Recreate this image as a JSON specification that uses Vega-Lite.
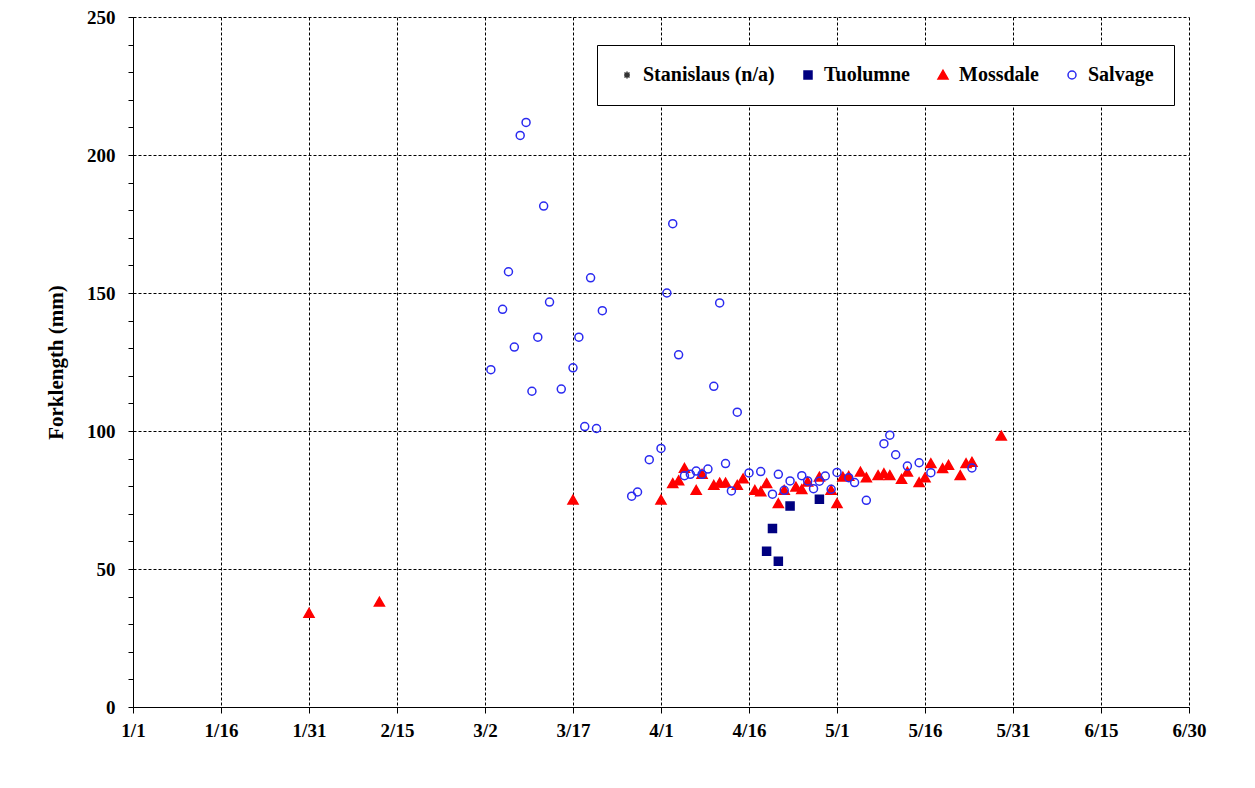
{
  "$schema": "https://vega.github.io/schema/vega-lite/v6.json",
  "width": 1056,
  "height": 690,
  "autosize": {"type": "none"},
  "padding": {"left": 133, "top": 17, "right": 66, "bottom": 81},
  "background": "white",
  "data": {
    "values": [
      {"series": "Tuolumne", "date": "2009-04-23", "length": 72.8},
      {"series": "Tuolumne", "date": "2009-04-20", "length": 64.7},
      {"series": "Tuolumne", "date": "2009-04-19", "length": 56.4},
      {"series": "Tuolumne", "date": "2009-04-21", "length": 52.8},
      {"series": "Tuolumne", "date": "2009-04-28", "length": 75.3},
      {"series": "Mossdale", "date": "2009-01-31", "length": 34},
      {"series": "Mossdale", "date": "2009-02-12", "length": 38},
      {"series": "Mossdale", "date": "2009-03-17", "length": 75},
      {"series": "Mossdale", "date": "2009-04-01", "length": 75},
      {"series": "Mossdale", "date": "2009-04-03", "length": 81},
      {"series": "Mossdale", "date": "2009-04-04", "length": 82},
      {"series": "Mossdale", "date": "2009-04-05", "length": 86.5},
      {"series": "Mossdale", "date": "2009-04-07", "length": 78.5},
      {"series": "Mossdale", "date": "2009-04-08", "length": 84.3},
      {"series": "Mossdale", "date": "2009-04-10", "length": 80.3},
      {"series": "Mossdale", "date": "2009-04-11", "length": 81.2},
      {"series": "Mossdale", "date": "2009-04-12", "length": 81.2},
      {"series": "Mossdale", "date": "2009-04-14", "length": 80.3},
      {"series": "Mossdale", "date": "2009-04-15", "length": 82.7},
      {"series": "Mossdale", "date": "2009-04-17", "length": 78.5},
      {"series": "Mossdale", "date": "2009-04-18", "length": 78},
      {"series": "Mossdale", "date": "2009-04-19", "length": 81},
      {"series": "Mossdale", "date": "2009-04-21", "length": 73.7},
      {"series": "Mossdale", "date": "2009-04-22", "length": 78.5},
      {"series": "Mossdale", "date": "2009-04-24", "length": 79.7},
      {"series": "Mossdale", "date": "2009-04-25", "length": 78.8},
      {"series": "Mossdale", "date": "2009-04-26", "length": 81.5},
      {"series": "Mossdale", "date": "2009-04-28", "length": 83.3},
      {"series": "Mossdale", "date": "2009-04-30", "length": 78.5},
      {"series": "Mossdale", "date": "2009-05-01", "length": 73.7},
      {"series": "Mossdale", "date": "2009-05-02", "length": 83.3},
      {"series": "Mossdale", "date": "2009-05-03", "length": 83.6},
      {"series": "Mossdale", "date": "2009-05-05", "length": 85.1},
      {"series": "Mossdale", "date": "2009-05-06", "length": 83.1},
      {"series": "Mossdale", "date": "2009-05-08", "length": 83.9},
      {"series": "Mossdale", "date": "2009-05-09", "length": 84.6},
      {"series": "Mossdale", "date": "2009-05-10", "length": 83.9},
      {"series": "Mossdale", "date": "2009-05-12", "length": 82.5},
      {"series": "Mossdale", "date": "2009-05-13", "length": 85.1},
      {"series": "Mossdale", "date": "2009-05-15", "length": 81.3},
      {"series": "Mossdale", "date": "2009-05-16", "length": 83.1},
      {"series": "Mossdale", "date": "2009-05-17", "length": 88.2},
      {"series": "Mossdale", "date": "2009-05-19", "length": 86.4},
      {"series": "Mossdale", "date": "2009-05-20", "length": 87.6},
      {"series": "Mossdale", "date": "2009-05-22", "length": 83.9},
      {"series": "Mossdale", "date": "2009-05-23", "length": 88.2},
      {"series": "Mossdale", "date": "2009-05-24", "length": 88.7},
      {"series": "Mossdale", "date": "2009-05-29", "length": 98.2},
      {"series": "Salvage", "date": "2009-03-09", "length": 211.8},
      {"series": "Salvage", "date": "2009-03-08", "length": 207.1},
      {"series": "Salvage", "date": "2009-03-12", "length": 181.5},
      {"series": "Salvage", "date": "2009-03-06", "length": 157.7},
      {"series": "Salvage", "date": "2009-03-20", "length": 155.5},
      {"series": "Salvage", "date": "2009-03-13", "length": 146.7},
      {"series": "Salvage", "date": "2009-03-05", "length": 144.1},
      {"series": "Salvage", "date": "2009-03-22", "length": 143.6},
      {"series": "Salvage", "date": "2009-03-11", "length": 134},
      {"series": "Salvage", "date": "2009-03-18", "length": 134},
      {"series": "Salvage", "date": "2009-03-07", "length": 130.4},
      {"series": "Salvage", "date": "2009-03-03", "length": 122.2},
      {"series": "Salvage", "date": "2009-03-17", "length": 122.9},
      {"series": "Salvage", "date": "2009-03-10", "length": 114.4},
      {"series": "Salvage", "date": "2009-03-15", "length": 115.2},
      {"series": "Salvage", "date": "2009-03-19", "length": 101.6},
      {"series": "Salvage", "date": "2009-03-21", "length": 100.9},
      {"series": "Salvage", "date": "2009-04-01", "length": 93.7},
      {"series": "Salvage", "date": "2009-03-30", "length": 89.6},
      {"series": "Salvage", "date": "2009-03-28", "length": 77.9},
      {"series": "Salvage", "date": "2009-03-27", "length": 76.4},
      {"series": "Salvage", "date": "2009-04-03", "length": 175.1},
      {"series": "Salvage", "date": "2009-04-02", "length": 150},
      {"series": "Salvage", "date": "2009-04-11", "length": 146.4},
      {"series": "Salvage", "date": "2009-04-04", "length": 127.6},
      {"series": "Salvage", "date": "2009-04-10", "length": 116.2},
      {"series": "Salvage", "date": "2009-04-14", "length": 106.8},
      {"series": "Salvage", "date": "2009-04-05", "length": 83.8},
      {"series": "Salvage", "date": "2009-04-06", "length": 84.3},
      {"series": "Salvage", "date": "2009-04-07", "length": 85.5},
      {"series": "Salvage", "date": "2009-04-08", "length": 84.3},
      {"series": "Salvage", "date": "2009-04-09", "length": 86.2},
      {"series": "Salvage", "date": "2009-04-12", "length": 88.2},
      {"series": "Salvage", "date": "2009-04-13", "length": 78.3},
      {"series": "Salvage", "date": "2009-04-16", "length": 84.8},
      {"series": "Salvage", "date": "2009-04-18", "length": 85.3},
      {"series": "Salvage", "date": "2009-04-21", "length": 84.3},
      {"series": "Salvage", "date": "2009-04-20", "length": 77.1},
      {"series": "Salvage", "date": "2009-04-23", "length": 81.9},
      {"series": "Salvage", "date": "2009-04-22", "length": 78.5},
      {"series": "Salvage", "date": "2009-04-25", "length": 83.8},
      {"series": "Salvage", "date": "2009-04-26", "length": 81.9},
      {"series": "Salvage", "date": "2009-04-27", "length": 79.1},
      {"series": "Salvage", "date": "2009-04-28", "length": 81.8},
      {"series": "Salvage", "date": "2009-04-29", "length": 83.7},
      {"series": "Salvage", "date": "2009-04-30", "length": 78.9},
      {"series": "Salvage", "date": "2009-05-01", "length": 85},
      {"series": "Salvage", "date": "2009-05-03", "length": 83.1},
      {"series": "Salvage", "date": "2009-05-04", "length": 81.3},
      {"series": "Salvage", "date": "2009-05-06", "length": 74.9},
      {"series": "Salvage", "date": "2009-05-10", "length": 98.5},
      {"series": "Salvage", "date": "2009-05-09", "length": 95.4},
      {"series": "Salvage", "date": "2009-05-11", "length": 91.4},
      {"series": "Salvage", "date": "2009-05-13", "length": 87.3},
      {"series": "Salvage", "date": "2009-05-15", "length": 88.5},
      {"series": "Salvage", "date": "2009-05-17", "length": 84.9},
      {"series": "Salvage", "date": "2009-05-24", "length": 86.6}
    ]
  },
  "mark": {"type": "point", "size": 100, "strokeWidth": 1.5, "opacity": 1},
  "encoding": {
    "x": {
      "field": "date",
      "type": "temporal",
      "scale": {
        "type": "utc",
        "nice": false,
        "domain": [
          {"year": 2009, "month": 1, "date": 1, "utc": true},
          {"year": 2009, "month": 6, "date": 30, "utc": true}
        ]
      },
      "axis": {
        "title": null,
        "labelExpr": "utcFormat(datum.value, '%-m/%-d')",
        "values": [
          {"year": 2009, "month": 1, "date": 1, "utc": true},
          {"year": 2009, "month": 1, "date": 16, "utc": true},
          {"year": 2009, "month": 1, "date": 31, "utc": true},
          {"year": 2009, "month": 2, "date": 15, "utc": true},
          {"year": 2009, "month": 3, "date": 2, "utc": true},
          {"year": 2009, "month": 3, "date": 17, "utc": true},
          {"year": 2009, "month": 4, "date": 1, "utc": true},
          {"year": 2009, "month": 4, "date": 16, "utc": true},
          {"year": 2009, "month": 5, "date": 1, "utc": true},
          {"year": 2009, "month": 5, "date": 16, "utc": true},
          {"year": 2009, "month": 5, "date": 31, "utc": true},
          {"year": 2009, "month": 6, "date": 15, "utc": true},
          {"year": 2009, "month": 6, "date": 30, "utc": true}
        ],
        "tickSize": 6,
        "labelPadding": 8,
        "labelFlush": false,
        "labelOverlap": false
      }
    },
    "y": {
      "field": "length",
      "type": "quantitative",
      "scale": {"domain": [0, 250], "nice": false, "zero": true},
      "axis": {
        "title": "Forklength (mm)",
        "values": [0, 10, 20, 30, 40, 50, 60, 70, 80, 90, 100, 110, 120, 130, 140, 150, 160, 170, 180, 190, 200, 210, 220, 230, 240, 250],
        "labelExpr": "datum.value % 50 === 0 ? datum.label : ''",
        "gridOpacity": {"condition": {"test": "datum.value % 50 === 0", "value": 1}, "value": 0},
        "tickSize": 5,
        "labelPadding": 13,
        "titlePadding": 20,
        "labelFlush": false,
        "labelOverlap": false
      }
    },
    "shape": {
      "field": "series",
      "type": "nominal",
      "scale": {
        "domain": ["Stanislaus (n/a)", "Tuolumne", "Mossdale", "Salvage"],
        "range": [
          "M-0.6,0H0.6M0,-0.7V0.7M-0.5,-0.5L0.5,0.5M-0.5,0.5L0.5,-0.5",
          "M-0.8,-0.8H0.8V0.8H-0.8Z",
          "M0,-0.95L1,0.8L-1,0.8Z",
          "M0.8,0A0.8,0.8,0,1,1,-0.8,0A0.8,0.8,0,1,1,0.8,0Z"
        ]
      },
      "legend": {
        "title": null,
        "orient": "none",
        "legendX": 464,
        "legendY": 28,
        "direction": "horizontal",
        "padding": 20,
        "strokeColor": "black",
        "fillColor": "white",
        "labelFont": "Liberation Serif",
        "labelFontWeight": "bold",
        "labelFontSize": 20,
        "labelColor": "black",
        "labelOffset": 6,
        "columnPadding": 23,
        "symbolSize": 100,
        "symbolStrokeWidth": 1.5
      }
    },
    "fill": {
      "field": "series",
      "type": "nominal",
      "scale": {
        "domain": ["Stanislaus (n/a)", "Tuolumne", "Mossdale", "Salvage"],
        "range": ["#333333", "#000080", "#ff0000", "transparent"]
      },
      "legend": {"title": null}
    },
    "stroke": {
      "field": "series",
      "type": "nominal",
      "scale": {
        "domain": ["Stanislaus (n/a)", "Tuolumne", "Mossdale", "Salvage"],
        "range": ["#333333", "#000080", "#ff0000", "#2a2af0"]
      },
      "legend": {"title": null}
    }
  },
  "config": {
    "view": {"stroke": null},
    "axis": {
      "domainColor": "black",
      "domainWidth": 1,
      "tickColor": "black",
      "tickWidth": 1,
      "grid": true,
      "gridColor": "black",
      "gridDash": [3, 2],
      "gridWidth": 1,
      "labelFont": "Liberation Serif",
      "labelFontWeight": "bold",
      "labelFontSize": 19,
      "labelColor": "black",
      "titleFont": "Liberation Serif",
      "titleFontWeight": "bold",
      "titleFontSize": 21,
      "titleColor": "black"
    }
  }
}
